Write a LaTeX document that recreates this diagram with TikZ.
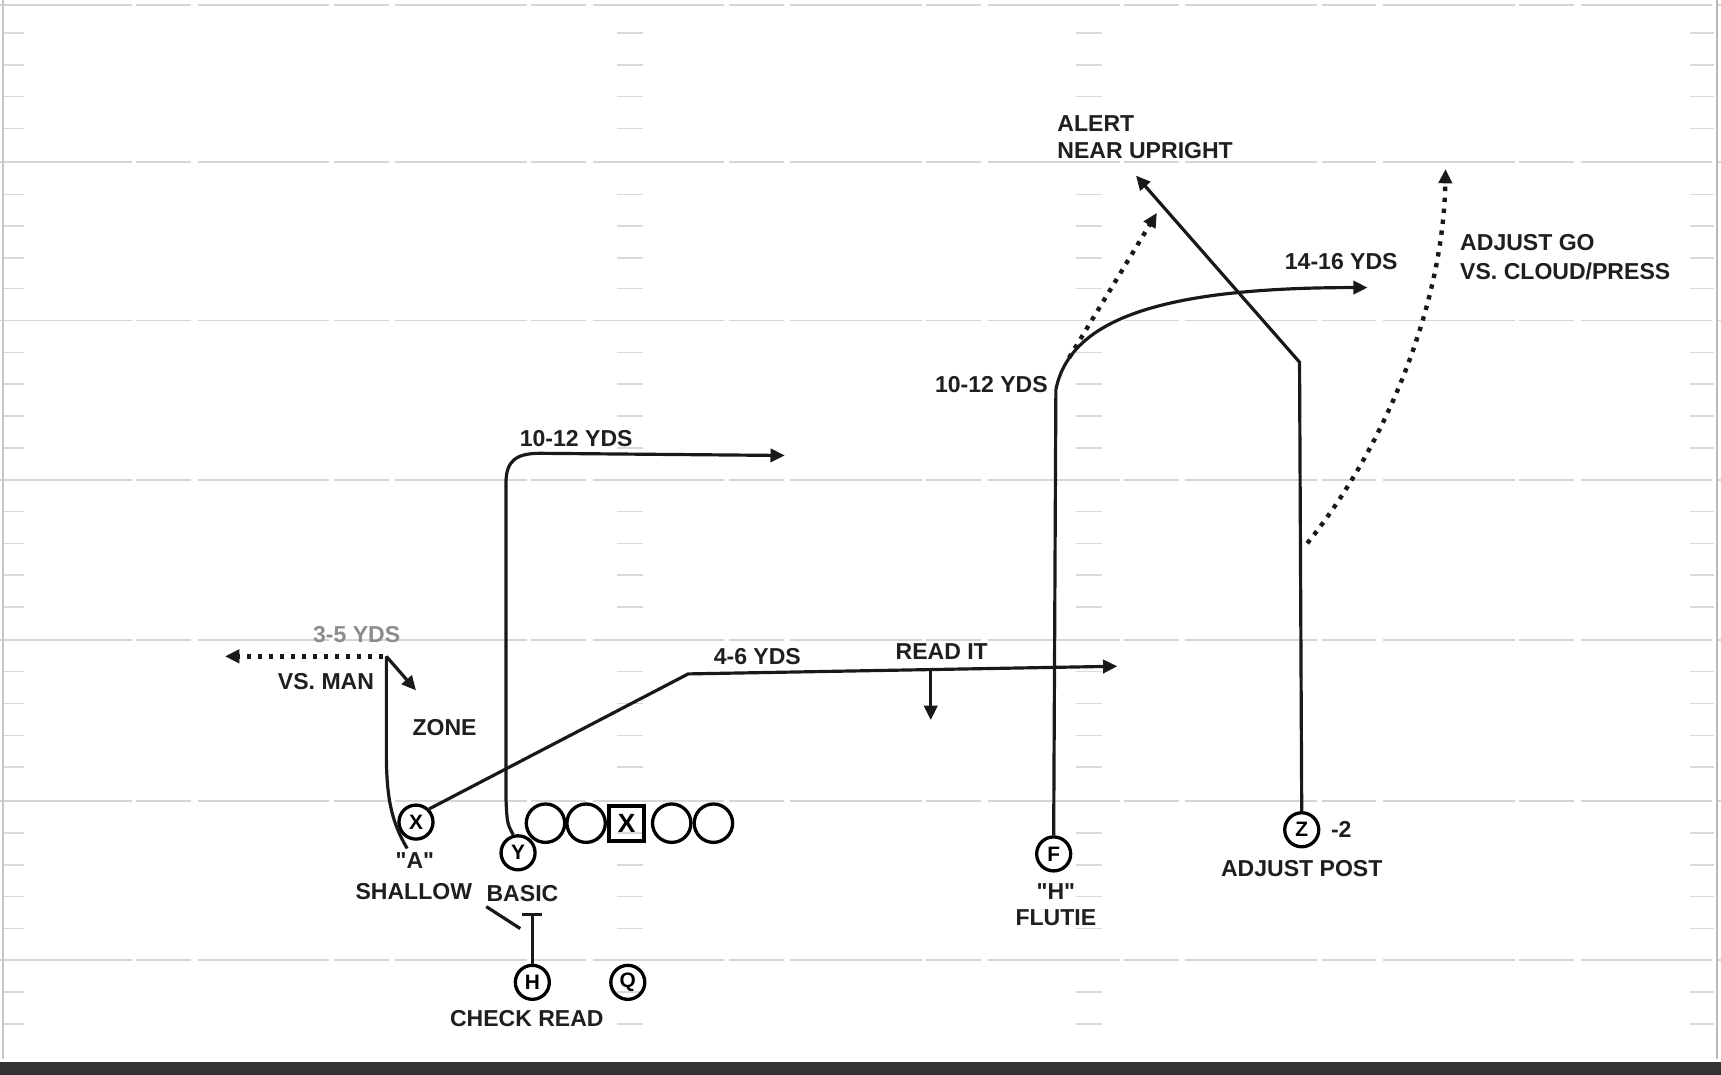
\documentclass[tikz,border=0pt]{standalone}
\usepackage{fontspec}
\setmainfont{Liberation Sans}[Ligatures=TeXOff]
\usetikzlibrary{arrows.meta}
\begin{document}
\begin{tikzpicture}[x=0.5pt,y=-0.5pt,
  lbl/.style={font=\bfseries\fontsize{10.5}{12}\selectfont, inner sep=0pt, text=black!88},
  plr/.style={circle, draw, line width=1.5pt, minimum size=15.5pt, inner sep=0pt, font=\bfseries\fontsize{9.5}{9.5}\selectfont},
  oline/.style={circle, draw, line width=1.5pt, minimum size=17.5pt, inner sep=0pt},
  ctr/.style={rectangle, draw, line width=1.8pt, minimum size=16pt, inner sep=0pt, font=\bfseries\fontsize{12}{12}\selectfont},
  route/.style={line width=1.45pt, black!90},
  arr/.style={-{Triangle[length=6.5pt,width=6pt]}},
  dotr/.style={line width=2pt, black!90, dash pattern=on 2pt off 3pt},
  fieldline/.style={black!16, line width=0.9pt, dash pattern=on 60pt off 2pt on 25pt off 3pt},
  hash/.style={black!15, line width=0.7pt}
]
\fill[white] (0,0) rectangle (1568,979);
\useasboundingbox (0,0) rectangle (1568,979);

% field background
\foreach \yy in {5,148,292,437,583,730,875} {
  \draw[fieldline] (0,\yy) -- (1568,\yy);
}
\foreach \yy in {30,59,88,117,177,206,235,263,321,350,379,408,466,495,524,553,612,641,670,699,759,788,817,846,904,933} {
  \draw[hash] (2,\yy) -- (22,\yy);
  \draw[hash] (562,\yy) -- (586,\yy);
  \draw[hash] (980,\yy) -- (1004,\yy);
  \draw[hash] (1540,\yy) -- (1562,\yy);
}
\draw[black!22, line width=0.8pt] (3,0) -- (3,965);
\draw[black!28, line width=0.8pt] (1564,0) -- (1564,965);
\fill[black!80] (0,968) rectangle (1568,979);

% players
\node[plr] (X) at (379,749) {X};
\node[plr] (Y) at (472,777) {Y};
\node[oline] (L1) at (497,750) {};
\node[oline] (L2) at (534,750) {};
\node[ctr] (C) at (571,750) {X};
\node[oline] (L3) at (612,750) {};
\node[oline] (L4) at (650,750) {};
\node[plr] (H) at (485,895) {H};
\node[plr] (Q) at (572,895) {Q};
\node[plr] (F) at (960,778) {F};
\node[plr] (Z) at (1186,756) {Z};

% coordinates
\coordinate (xbreak) at (627,614);
\coordinate (xend) at (1018,607);
\coordinate (rd1) at (848,611);
\coordinate (rd2) at (848,656);
\coordinate (shtop) at (352,598);
\coordinate (shman) at (205,598);
\coordinate (shzone) at (379,629);
\coordinate (yturn) at (461,440);
\coordinate (yend) at (715,415);
\coordinate (fbreak) at (962,355);
\coordinate (fend) at (1246,262);
\coordinate (falt1) at (974,326);
\coordinate (falt2) at (1054,194);
\coordinate (zbreak) at (1184,330);
\coordinate (zend) at (1035,160);
\coordinate (go1) at (1191,495);
\coordinate (go2) at (1317,154);
\coordinate (tbarl) at (476,833);
\coordinate (tbarr) at (494,833);
\coordinate (tbarm) at (485,833);
\coordinate (sh1) at (443,826);
\coordinate (sh2) at (474,846);

% routes
\draw[route, arr] (X.45) -- (xbreak) -- (xend);
\draw[route, arr] (rd1) -- (rd2);
\draw[route] (371,773) .. controls (356,748) and (352,725) .. (352,685) -- (shtop);
\draw[route, arr] (shtop) -- (shzone);
\draw[dotr, arr] (349,598) -- (shman);
\draw[route, arr] (Y.105) .. controls (462,750) .. (yturn|-0,728) -- (yturn) .. controls (461,420) and (470,413) .. (492,413) -- (yend);
\draw[route, arr] (F.north) -- (fbreak) .. controls (975,290) and (1060,262) .. (fend);
\draw[dotr, arr] (falt1) -- (falt2);
\draw[route, arr] (Z.north) -- (zbreak) -- (zend);
\draw[dotr, arr] (go1) .. controls (1260,410) and (1315,280) .. (go2);
\draw[route] (H.north) -- (tbarm);
\draw[route] (tbarl) -- (tbarr);
\draw[route] (sh1) -- (sh2);

% labels
\node[lbl, anchor=west] (alert) at (963,113) {ALERT};
\node[lbl, anchor=west] (near) at (963,137) {NEAR UPRIGHT};
\node[lbl] (y1416) at (1222,238) {14-16 YDS};
\node[lbl, anchor=west] (adjgo) at (1330,221) {ADJUST GO};
\node[lbl, anchor=west] (cloud) at (1330,247) {VS. CLOUD/PRESS};
\node[lbl, anchor=east] (f1012) at (955,350) {10-12 YDS};
\node[lbl] (y1012) at (525,400) {10-12 YDS};
\node[lbl, text=black!45] (y35) at (325,578) {3-5 YDS};
\node[lbl] (vsman) at (297,621) {VS. MAN};
\node[lbl] (zone) at (405,663) {ZONE};
\node[lbl] (y46) at (690,598) {4-6 YDS};
\node[lbl] (readit) at (858,594) {READ IT};
\node[lbl] (qa) at (378,784) {"A"};
\node[lbl] (shallow) at (377,812) {SHALLOW};
\node[lbl] (basic) at (476,814) {BASIC};
\node[lbl] (check) at (480,928) {CHECK READ};
\node[lbl] (qh) at (962,812) {"H"};
\node[lbl] (flutie) at (962,836) {FLUTIE};
\node[lbl] (adjpost) at (1186,791) {ADJUST POST};
\node[lbl] (m2) at (1222,756) {-2};
\end{tikzpicture}
\end{document}
